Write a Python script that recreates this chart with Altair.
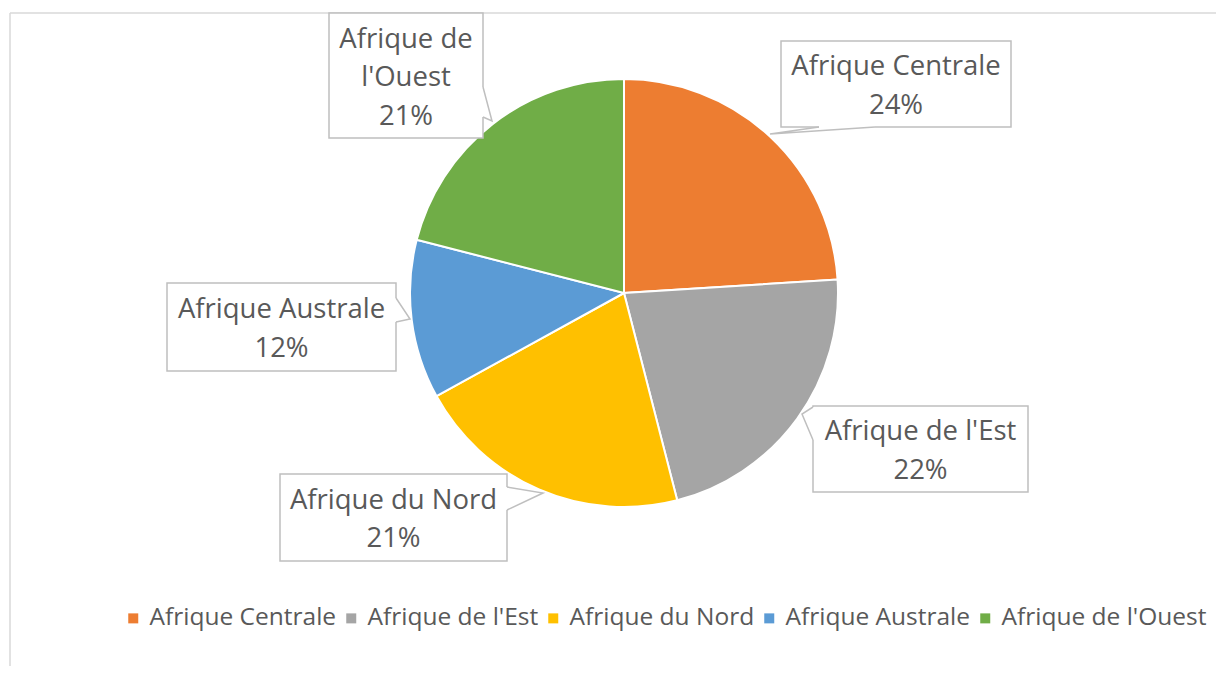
import altair as alt
import pandas as pd

# ---------------- data ----------------
categories = ["Afrique Centrale", "Afrique de l'Est", "Afrique du Nord",
              "Afrique Australe", "Afrique de l'Ouest"]
values = [24, 22, 21, 12, 21]
colors = ["#ED7D31", "#A5A5A5", "#FFC000", "#5B9BD5", "#70AD47"]

# ---------------- layout (page pixels) ----------------
M = 8                      # page margin
W, H = 1208, 658           # chart size
CX, CY, R = 624, 293, 214  # pie centre / radius
FONT = "Open Sans"
TXT = "#595959"
BOX = "#BFBFBF"

wrap = {"Afrique de l'Ouest": ["Afrique de", "l'Ouest"]}
boxes = {
    "Afrique Centrale": (781, 41, 1011, 127),
    "Afrique de l'Est": (813, 406, 1028, 492),
    "Afrique du Nord": (280, 474, 507, 561),
    "Afrique Australe": (167, 283, 396, 371),
    "Afrique de l'Ouest": (329, 13, 483, 138),
}
pointers = {
    "Afrique Centrale": [(819, 127), (770, 134), (875, 127)],
    "Afrique de l'Est": [(813, 407), (802, 414), (813, 440)],
    "Afrique du Nord": [(507, 487), (543, 493), (507, 510)],
    "Afrique Australe": [(396, 298), (410, 319), (396, 322)],
    "Afrique de l'Ouest": [(483, 87), (492, 121), (483, 117)],
}
LH = 38.5

pie_df = pd.DataFrame({"cat": categories, "val": values, "idx": range(len(categories))})

box_rows, txt_rows, cover_rows, ptr_rows = [], [], [], []
for cat, v in zip(categories, values):
    x0, y0, x1, y1 = boxes[cat]
    box_rows.append({"x": x0 - M, "y": y0 - M, "x2": x1 - M, "y2": y1 - M})
    lines = wrap.get(cat, [cat]) + [f"{v}%"]
    n = len(lines)
    cxb, cyb = (x0 + x1) / 2, (y0 + y1) / 2
    for i, t in enumerate(lines):
        txt_rows.append({"x": cxb - M, "y": cyb + LH * (i - (n - 1) / 2) + 10.5 - M, "t": t})
    p = pointers[cat]
    cover_rows.append({"x": p[0][0] - M, "y": p[0][1] - M, "x2": p[2][0] - M, "y2": p[2][1] - M})
    for j, (px, py) in enumerate(p):
        ptr_rows.append({"cat": cat, "o": j, "x": px - M, "y": py - M})

box_df = pd.DataFrame(box_rows)
txt_df = pd.DataFrame(txt_rows)
cover_df = pd.DataFrame(cover_rows)
ptr_df = pd.DataFrame(ptr_rows)
border_df = pd.DataFrame({"x": [10 - M, 10 - M], "y": [13 - M, 13 - M],
                          "x2": [10 - M, W], "y2": [H, 13 - M]})

xs = alt.Scale(domain=[0, W])
ys = alt.Scale(domain=[H, 0])

border = alt.Chart(border_df).mark_rule(color="#D9D9D9", strokeWidth=1.5).encode(
    x=alt.X("x:Q", scale=xs, axis=None), y=alt.Y("y:Q", scale=ys, axis=None),
    x2="x2:Q", y2="y2:Q")

pie = alt.Chart(pie_df).mark_arc(outerRadius=R, stroke="white", strokeWidth=2).encode(
    theta=alt.Theta("val:Q", stack=True),
    order=alt.Order("idx:Q"),
    color=alt.Color("cat:N", scale=alt.Scale(domain=categories, range=colors),
                    legend=alt.Legend(orient="none", legendX=113, legendY=598,
                                      direction="horizontal", columns=5, title=None,
                                      symbolType="square", symbolSize=100,
                                      symbolStrokeWidth=0, labelFont=FONT,
                                      labelFontSize=24.5, labelColor=TXT,
                                      labelOffset=4, columnPadding=2,
                                      labelLimit=400)),
    x=alt.value(CX - M), y=alt.value(CY - M))

box = alt.Chart(box_df).mark_rect(fill="white", stroke=BOX, strokeWidth=1.5).encode(
    x=alt.X("x:Q", scale=xs, axis=None), y=alt.Y("y:Q", scale=ys, axis=None),
    x2="x2:Q", y2="y2:Q")

cover = alt.Chart(cover_df).mark_rule(color="white", strokeWidth=3).encode(
    x=alt.X("x:Q", scale=xs, axis=None), y=alt.Y("y:Q", scale=ys, axis=None),
    x2="x2:Q", y2="y2:Q")

ptr = alt.Chart(ptr_df).mark_line(color=BOX, strokeWidth=1.5).encode(
    x=alt.X("x:Q", scale=xs, axis=None), y=alt.Y("y:Q", scale=ys, axis=None),
    detail="cat:N", order="o:Q")

txt = alt.Chart(txt_df).mark_text(font=FONT, fontSize=27.5, color=TXT,
                                  align="center", baseline="alphabetic").encode(
    x=alt.X("x:Q", scale=xs, axis=None), y=alt.Y("y:Q", scale=ys, axis=None),
    text="t:N")

chart = alt.layer(border, pie, box, cover, ptr, txt).properties(
    width=W, height=H, autosize="none", padding=0, background="white"
).configure_view(stroke=None)

chart.save("out.html", embed_options={"renderer": "svg", "actions": False})
